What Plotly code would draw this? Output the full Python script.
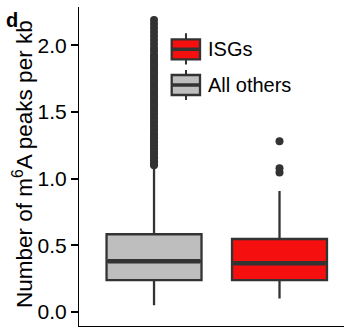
import plotly.graph_objects as go

# ---- data ----
groups = ["All others", "ISGs"]
q1 = [0.238, 0.238]
median = [0.379, 0.364]
q3 = [0.582, 0.546]
lower = [0.048, 0.100]
upper = [1.098, 0.907]
fills = ["#BEBEBE", "#F50F0F"]
gray_outliers = [1.10, 1.11, 1.12, 1.13, 1.15, 1.16, 1.17, 1.19, 1.20, 1.22, 1.23, 1.25,
                 1.27, 1.28, 1.30, 1.32, 1.33, 1.35, 1.37, 1.39, 1.41, 1.43, 1.45, 1.47,
                 1.49, 1.51, 1.53, 1.55, 1.57, 1.59, 1.61, 1.63, 1.65, 1.67, 1.69, 1.71,
                 1.73, 1.75, 1.77, 1.79, 1.81, 1.83, 1.85, 1.87, 1.89, 1.91, 1.93, 1.96,
                 1.98, 2.01, 2.04, 2.07, 2.10, 2.13, 2.16, 2.19]
isg_outliers = [1.045, 1.078, 1.281]
outliers = [gray_outliers, isg_outliers]
ytick_vals = [0.0, 0.5, 1.0, 1.5, 2.0]
ytick_text = ["0.0", "0.5", "1.0", "1.5", "2.0"]

LINE = "#333333"
FONT = "Liberation Sans"
BW = 0.757

fig = go.Figure()
for i, g in enumerate(groups):
    fig.add_trace(go.Box(
        x=[i], q1=[q1[i]], median=[median[i]], q3=[q3[i]],
        lowerfence=[lower[i]], upperfence=[upper[i]],
        width=BW, fillcolor=fills[i], boxpoints=False,
        line=dict(color=LINE, width=2.3), whiskerwidth=0,
        showlegend=False, hoverinfo="skip"))
    fig.add_trace(go.Scatter(
        x=[i - BW / 2 + 0.01, i + BW / 2 - 0.01], y=[median[i], median[i]],
        mode="lines", line=dict(color=LINE, width=4.6), showlegend=False, hoverinfo="skip"))
    fig.add_trace(go.Scatter(
        x=[i] * len(outliers[i]), y=outliers[i], mode="markers",
        marker=dict(color=LINE, size=8), showlegend=False, hoverinfo="skip"))

L, R, T, B, W, H = 79, 0, 7, 1, 344, 327
PW, PH = W - L - R, H - T - B


def px(x):
    return (x - L) / PW


def py(y):
    return (H - B - y) / PH


# custom legend keys
shapes = []
keys = [("ISGs", fills[1], 33.3, 39.3, 59.3, 64.5, 49.3),
        ("All others", fills[0], 70.0, 75.0, 95.0, 100.0, 85.0)]
annotations = []
for label, col, wt, bt, bb, wb, med in keys:
    x0, x1, xc = px(171.7), px(200.0), px(186.0)
    shapes.append(dict(type="line", xref="paper", yref="paper", x0=xc, x1=xc,
                       y0=py(wt), y1=py(wb), line=dict(color=LINE, width=2)))
    shapes.append(dict(type="rect", xref="paper", yref="paper", x0=x0, x1=x1,
                       y0=py(bt), y1=py(bb), fillcolor=col, line=dict(color=LINE, width=2.3)))
    shapes.append(dict(type="line", xref="paper", yref="paper", x0=x0, x1=x1,
                       y0=py(med), y1=py(med), line=dict(color=LINE, width=3.5)))
    annotations.append(dict(text=label, xref="paper", yref="paper", x=px(206), y=py(med),
                            xanchor="left", yanchor="middle", showarrow=False,
                            font=dict(family=FONT, size=20, color="black")))

annotations.append(dict(text="Number of m<sup>6</sup>A peaks per kb", textangle=-90,
                        xref="paper", yref="paper", x=px(23), y=py(164),
                        xanchor="center", yanchor="middle", showarrow=False,
                        font=dict(family=FONT, size=22.5, color="black")))
annotations.append(dict(text="<b>d</b>", xref="paper", yref="paper", x=px(4), y=py(7),
                        xanchor="left", yanchor="top", showarrow=False,
                        font=dict(family=FONT, size=20, color="black")))

fig.update_layout(
    width=W, height=H, margin=dict(l=L, r=R, t=T, b=B, pad=0),
    paper_bgcolor="white", plot_bgcolor="white",
    font=dict(family=FONT, size=21, color="black"),
    shapes=shapes, annotations=annotations,
    xaxis=dict(range=[-0.598, 1.514], showticklabels=False, ticks="", showgrid=False,
               zeroline=False, showline=True, linecolor="black", linewidth=1.2),
    yaxis=dict(range=[-0.107, 2.288], tickvals=ytick_vals, ticktext=ytick_text,
               ticks="outside", ticklen=7, tickwidth=1.5, tickcolor="black",
               showgrid=False, zeroline=False, showline=True, linecolor="black",
               linewidth=1.2, tickfont=dict(family=FONT, size=21, color="black")),
)
fig.write_html("out.html")
